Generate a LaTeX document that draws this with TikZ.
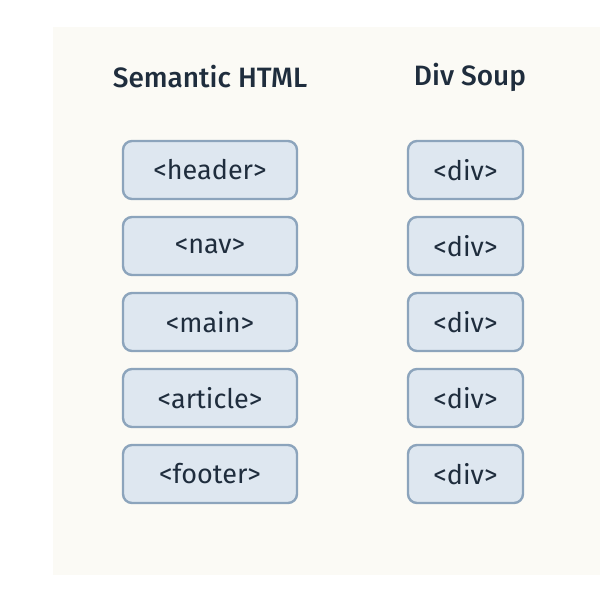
\documentclass[tikz,border=0pt]{standalone}
\usepackage{fontspec}
\setmainfont{Fira Sans}[BoldFont=* Medium]
\definecolor{bg}{HTML}{FBFAF5}
\definecolor{bfill}{HTML}{DEE7F0}
\definecolor{bdraw}{HTML}{8CA4BC}
\definecolor{txt}{HTML}{1F2D3D}
\begin{document}
\begin{tikzpicture}[x=1pt,y=-1pt,
 box/.style={draw=bdraw,line width=2.4pt,fill=bfill,rounded corners=9pt,minimum height=58pt,text=txt,font=\fontsize{27}{30}\selectfont},
 sbox/.style={box,minimum width=174pt},
 dbox/.style={box,minimum width=115pt},
 title/.style={text=txt,font=\bfseries\fontsize{28}{32}\selectfont}]
\useasboundingbox (0,0) rectangle (600,600);
\fill[bg] (53,27) rectangle (600,575);
\node[title] (t1) at (210,77) {Semantic HTML};
\node[title] (t2) at (470,77) {Div Soup};
\foreach \n/\t [count=\i from 0] in {h/header,n/nav,m/main,a/article,f/footer}{
  \node[sbox] (s\n) at (210,170+76*\i) {<\t>};
  \node[dbox] (d\n) at (465.5,170+76*\i) {<div>};
}
\end{tikzpicture}
\end{document}
